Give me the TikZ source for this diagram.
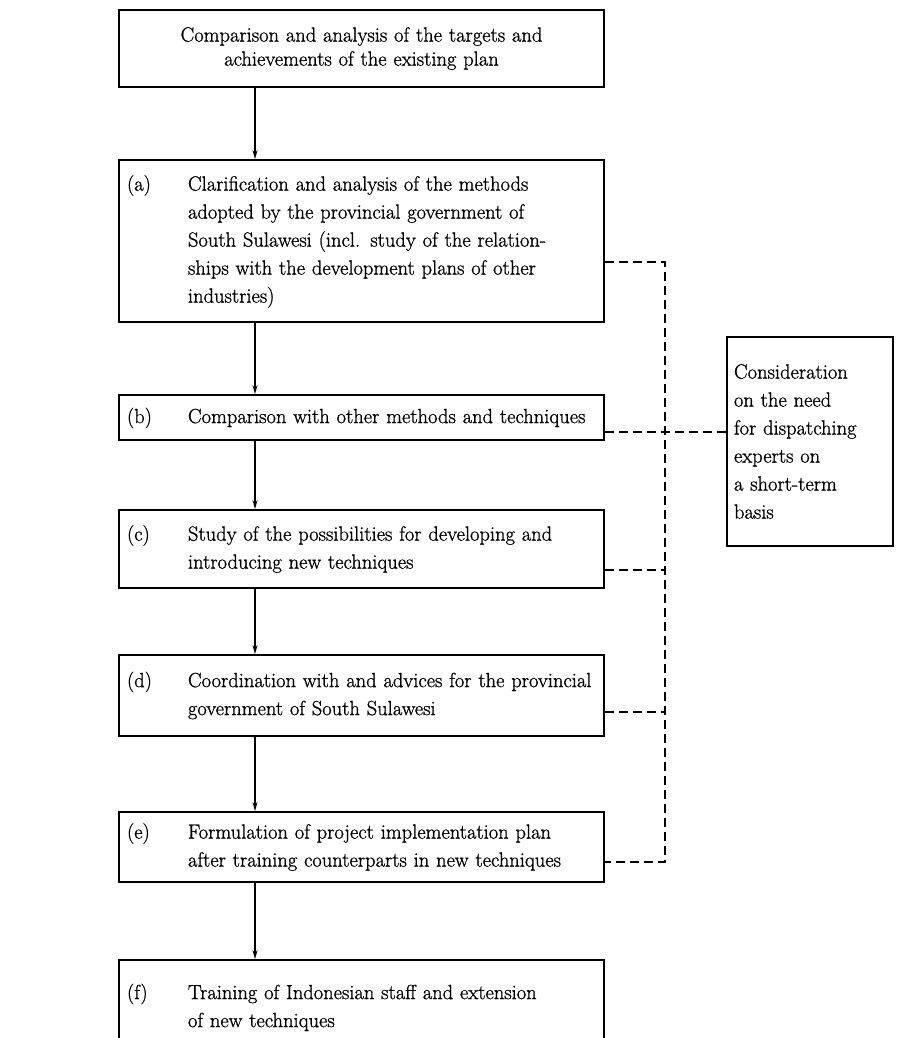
\documentclass[tikz,border=0pt]{standalone}
\usepackage{fontspec}
\newfontfamily\stepfamily{Latin Modern Roman}[FakeBold=1.0]
\usetikzlibrary{arrows.meta}

\newcommand{\stepfont}{\stepfamily\fontsize{20.5}{28}\selectfont}
\newcommand{\steplines}[2]{\makebox[61pt][l]{#1}\begin{tabular}[t]{@{}l@{}}#2\end{tabular}}

\tikzset{every picture/.style={line width=1.6pt}}

\begin{document}
\begin{tikzpicture}[
            x=1pt,
            y=1pt,
            yscale=-1,
            xscale=1,
            stepbox/.style={draw, line width=1.8pt, text width=469pt, inner xsep=8pt, inner ysep=0pt, align=left, font=\stepfont},
            notebox/.style={draw, line width=1.8pt, text width=152pt, inner xsep=7pt, inner ysep=0pt, align=left, font=\stepfont},
            flow/.style={-{Stealth[length=9pt,width=5pt]}, line width=1.4pt},
            linkline/.style={line width=1.4pt, dash pattern=on 9pt off 5pt},
            line width=1.6pt
        ]
            \clip (0,0) rectangle (901,1038);

            % main column of steps
            \node [stepbox, align=center, minimum height=77, font=\stepfamily\fontsize{20.5}{24}\selectfont] (top) at (361.5,48.5) {Comparison and analysis of the targets and\\achievements of the existing plan};
            \node [stepbox, minimum height=162] (a) at (361.5,241) {\steplines{(a)}{Clarification and analysis of the methods\\adopted by the provincial government of\\South Sulawesi (incl. study of the relation-\\ships with the development plans of other\\industries)}};
            \node [stepbox, minimum height=45] (b) at (361.5,417.5) {\steplines{(b)}{Comparison with other methods and techniques}};
            \node [stepbox, minimum height=78] (c) at (361.5,549) {\steplines{(c)}{Study of the possibilities for developing and\\introducing new techniques}};
            \node [stepbox, minimum height=81] (d) at (361.5,695.5) {\steplines{(d)}{Coordination with and advices for the provincial\\government of South Sulawesi}};
            \node [stepbox, minimum height=70] (e) at (361.5,847) {\steplines{(e)}{Formulation of project implementation plan\\after training counterparts in new techniques}};
            \node [stepbox, minimum height=95] (f) at (361.5,1007.5) {\steplines{(f)}{Training of Indonesian staff and extension\\of new techniques}};

            % side note
            \node [notebox, minimum height=209] (consider) at (810,441.5) {Consideration\\on the need\\for dispatching\\experts on\\a short-term\\basis};

            \coordinate (spine) at (255,0);
            \coordinate (rail) at (665,0);

            \foreach \from/\to in {top/a,a/b,b/c,c/d,d/e,e/f}
                \draw [flow] (\from.south -| spine) -- (\to.north -| spine);

            \draw [linkline] (a.east |- 0,262) -| (rail |- 0,862) -- (e.east |- 0,862);
            \draw [linkline] (b.east |- 0,432) -- (consider.west |- 0,432);
            \draw [linkline] (c.east |- 0,570) -- (rail |- 0,570);
            \draw [linkline] (d.east |- 0,712) -- (rail |- 0,712);
        \end{tikzpicture}
\end{document}
